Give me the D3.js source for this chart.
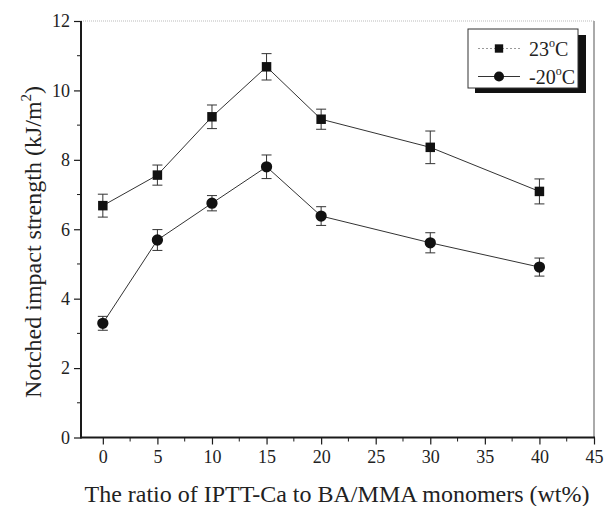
<!DOCTYPE html>
<html>
<head>
<meta charset="utf-8">
<script src="https://cdn.jsdelivr.net/npm/d3@7"></script>
<style>
  html, body { margin: 0; padding: 0; background: #fff; }
  svg { display: block; font-family: "Liberation Serif", "DejaVu Serif", serif; }
</style>
</head>
<body>
<svg id="chart" width="605" height="506"></svg>
<script>
// Notched impact strength vs IPTT-Ca content, two test temperatures
const ratios = [0, 5, 10, 15, 20, 30, 40];
const roomTemp = [6.68, 7.56, 9.24, 10.68, 9.17, 8.36, 7.09];
const roomTempErr = [0.33, 0.29, 0.34, 0.38, 0.29, 0.47, 0.36];
const lowTemp = [3.29, 5.69, 6.75, 7.80, 6.38, 5.61, 4.91];
const lowTempErr = [0.20, 0.30, 0.22, 0.34, 0.27, 0.29, 0.26];
const xTicks = [0, 5, 10, 15, 20, 25, 30, 35, 40, 45];
const yTicks = [0, 2, 4, 6, 8, 10, 12];
const seriesNames = ["23", "-20"];

const svg = d3.select("#chart");
const m = { left: 81, right: 594, top: 21, bottom: 437.5 };

const x = d3.scaleLinear().domain([-2, 45]).range([m.left, m.right]);
const y = d3.scaleLinear().domain([0, 12]).range([m.bottom, m.top]);

const ink = "#1a1a1a";

// frame: dotted top edge, grey right edge
svg.append("line")
  .attr("x1", m.left).attr("x2", m.right).attr("y1", m.top).attr("y2", m.top)
  .attr("stroke", "#bbb").attr("stroke-width", 1).attr("stroke-dasharray", "1,1");
svg.append("line")
  .attr("x1", m.right).attr("x2", m.right).attr("y1", m.top).attr("y2", m.bottom)
  .attr("stroke", "#aaa").attr("stroke-width", 2);

// minor ticks
const minorX = d3.range(-2.5, 45, 5).filter(v => v > -2);
const minorY = d3.range(1, 12, 2);

const xAxis = svg.append("g").attr("transform", `translate(0,${m.bottom})`)
  .call(d3.axisBottom(x).tickValues(xTicks).tickSize(7).tickSizeOuter(0).tickPadding(6).tickFormat(d3.format("d")));
xAxis.append("g").selectAll("line").data(minorX).join("line")
  .attr("x1", d => x(d)).attr("x2", d => x(d)).attr("y1", 0).attr("y2", 4)
  .attr("stroke", ink);

const yAxis = svg.append("g").attr("transform", `translate(${m.left},0)`)
  .call(d3.axisLeft(y).tickValues(yTicks).tickSize(7).tickSizeOuter(0).tickPadding(4).tickFormat(d3.format("d")));
yAxis.append("g").selectAll("line").data(minorY).join("line")
  .attr("x1", 0).attr("x2", -4).attr("y1", d => y(d)).attr("y2", d => y(d))
  .attr("stroke", ink);

[xAxis, yAxis].forEach(g => {
  g.select(".domain").attr("stroke", ink).attr("stroke-width", 2);
  g.selectAll(".tick line").attr("stroke", ink).attr("stroke-width", 1.2);
  g.selectAll("text").attr("font-family", "Liberation Serif, serif")
    .attr("font-size", 18).attr("fill", "#222");
});
// extend the axis lines so they meet at the corner and the frame
xAxis.select(".domain").attr("d", `M${m.left},0H${m.right + 1}`);
yAxis.select(".domain").attr("d", `M0,${m.bottom + 1}V${m.top}`);

// axis titles
svg.append("text")
  .attr("x", 337).attr("y", 502)
  .attr("text-anchor", "middle").attr("font-size", 24).attr("fill", "#222")
  .text("The ratio of IPTT-Ca to BA/MMA monomers (wt%)");

const yt = svg.append("text")
  .attr("transform", "translate(41,242) rotate(-90)")
  .attr("text-anchor", "middle").attr("font-size", 24).attr("fill", "#222");
yt.append("tspan").text("Notched impact strength (kJ/m");
yt.append("tspan").attr("font-size", 15).attr("dy", -10).text("2");
yt.append("tspan").attr("dy", 10).text(")");

// series
const line = d3.line().x(d => x(d[0])).y(d => y(d[1]));
function drawSeries(vals, errs, shape) {
  const pts = ratios.map((r, i) => [r, vals[i], errs[i]]);
  const g = svg.append("g");
  g.append("path").datum(pts).attr("d", line)
    .attr("fill", "none").attr("stroke", "#333").attr("stroke-width", 1);
  const cap = 5;
  const eb = g.selectAll("g.err").data(pts).join("g").attr("class", "err")
    .attr("stroke", "#333").attr("stroke-width", 1);
  eb.append("line").attr("x1", d => x(d[0])).attr("x2", d => x(d[0]))
    .attr("y1", d => y(d[1] + d[2])).attr("y2", d => y(d[1] - d[2]));
  eb.append("line").attr("x1", d => x(d[0]) - cap).attr("x2", d => x(d[0]) + cap)
    .attr("y1", d => y(d[1] + d[2])).attr("y2", d => y(d[1] + d[2]));
  eb.append("line").attr("x1", d => x(d[0]) - cap).attr("x2", d => x(d[0]) + cap)
    .attr("y1", d => y(d[1] - d[2])).attr("y2", d => y(d[1] - d[2]));
  g.selectAll("path.mk").data(pts).join("path").attr("class", "mk")
    .attr("transform", d => `translate(${x(d[0])},${y(d[1])})`)
    .attr("d", d3.symbol().type(shape).size(shape === d3.symbolSquare ? 90 : 100)())
    .attr("fill", "#111");
}
drawSeries(roomTemp, roomTempErr, d3.symbolSquare);
drawSeries(lowTemp, lowTempErr, d3.symbolCircle);

// legend with drop shadow
const lg = svg.append("g");
lg.append("rect").attr("x", 475).attr("y", 35).attr("width", 111).attr("height", 58).attr("fill", "#111");
lg.append("rect").attr("x", 468).attr("y", 29).attr("width", 110).attr("height", 59)
  .attr("fill", "#fff").attr("stroke", "#333").attr("stroke-width", 1);
const items = [
  { name: seriesNames[0], shape: d3.symbolSquare, dash: "2,2", cy: 48.5, col: "#999" },
  { name: seriesNames[1], shape: d3.symbolCircle, dash: null, cy: 76.5, col: "#333" }
];
items.forEach(it => {
  lg.append("line").attr("x1", 478).attr("x2", 520).attr("y1", it.cy).attr("y2", it.cy)
    .attr("stroke", it.col).attr("stroke-width", 1).attr("stroke-dasharray", it.dash);
  lg.append("path").attr("transform", `translate(499,${it.cy})`)
    .attr("d", d3.symbol().type(it.shape).size(it.shape === d3.symbolSquare ? 70 : 80)())
    .attr("fill", "#111");
  const t = lg.append("text").attr("x", 529).attr("y", it.cy + 7).attr("font-size", 20).attr("fill", "#222");
  t.append("tspan").text(it.name);
  t.append("tspan").attr("font-size", 12).attr("dy", -9).text("o");
  t.append("tspan").attr("dy", 9).text("C");
});
</script>
</body>
</html>
